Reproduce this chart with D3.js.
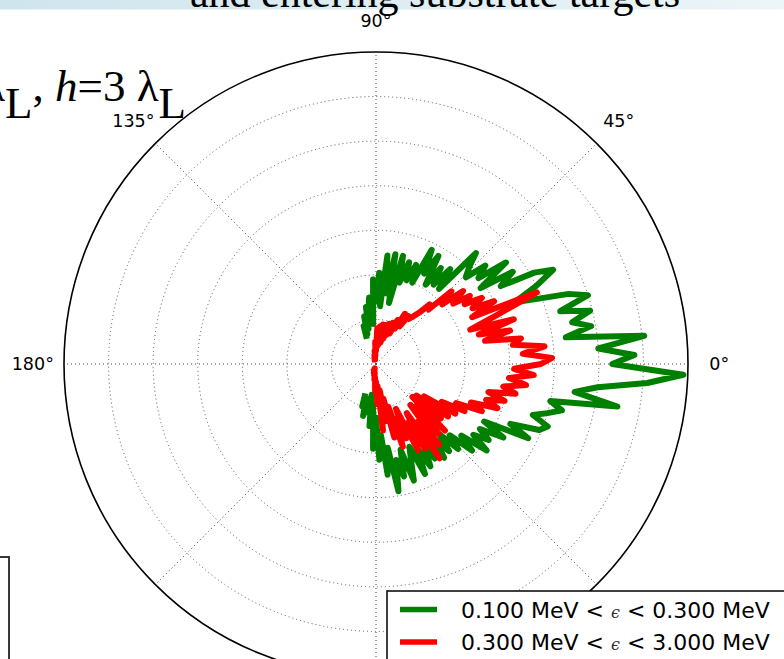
<!DOCTYPE html>
<html>
<head>
<meta charset="utf-8">
<script src="https://cdn.jsdelivr.net/npm/d3@7"></script>
<style>
  html, body { margin: 0; padding: 0; background: #ffffff; }
  svg { display: block; }
</style>
</head>
<body>
<svg id="chart" width="784" height="659"></svg>
<script>
// Emission angle samples (degrees, 0 = laser axis, counter-clockwise positive)
const thetaDeg = d3.range(-110, 112, 2);

// Angular distribution, 0.100 MeV < eps < 0.300 MeV
const lowEnergy = [
  0.7, 1.0, 0.8, 1.2, 0.9, 1.1, 0.7, 1.4, 0.9, 1.9,
  1.2, 2.15, 1.6, 2.5, 1.9, 2.9, 2.2, 2.6, 2.0, 2.75,
  2.3, 2.0, 2.7, 2.1, 2.6, 2.2, 2.5, 2.05, 2.6, 2.2,
  2.55, 2.1, 2.65, 2.3, 2.9, 2.5, 3.15, 2.7, 3.05, 2.75,
  3.3, 2.75, 3.8, 3.3, 3.95, 4.1, 3.7, 4.0, 4.3, 4.0,
  5.5, 4.5, 5.0, 6.1, 6.9, 5.3, 5.8, 5.0, 6.05, 4.3,
  4.9, 4.5, 4.95, 4.3, 5.0, 4.6, 3.9, 3.4, 4.0, 4.5,
  4.1, 3.3, 3.7, 2.9, 3.7, 3.0, 3.3, 2.8, 3.0, 3.35,
  2.2, 2.7, 2.2, 2.6, 2.1, 2.8, 2.3, 2.85, 2.0, 2.4,
  2.0, 2.4, 1.9, 2.5, 1.4, 2.5, 1.6, 2.45, 1.3, 2.05,
  1.4, 1.9, 0.9, 1.5, 1.2, 1.3, 0.8, 1.1, 0.7, 0.9, 0.6
];

// Angular distribution, 0.300 MeV < eps < 3.000 MeV
const highEnergy = [
  0.1, 0.15, 0.1, 0.2, 0.15, 0.25, 0.2, 0.35, 0.3, 0.6,
  0.4, 0.9, 0.5, 1.5, 0.6, 1.3, 0.8, 1.7, 1.0, 1.95,
  1.3, 1.8, 1.1, 2.15, 1.5, 2.2, 1.3, 2.55, 1.6, 2.3,
  1.2, 2.1, 1.3, 2.15, 1.1, 1.9, 1.15, 2.0, 1.3, 2.1,
  1.7, 2.25, 2.0, 2.6, 2.3, 2.9, 2.6, 3.0, 2.6, 3.2,
  2.9, 3.4, 3.0, 3.55, 3.1, 3.7, 3.95, 3.3, 3.8, 3.1,
  3.3, 2.5, 3.1, 2.4, 3.25, 2.25, 2.9, 3.95, 2.4, 3.0,
  2.5, 2.8, 2.4, 2.6, 2.2, 2.55, 2.0, 2.35, 1.7, 1.8,
  1.5, 1.35, 1.25, 1.3, 1.0, 1.3, 0.9, 1.1, 0.75, 1.0,
  0.7, 0.95, 0.6, 0.9, 0.5, 0.9, 0.45, 0.85, 0.4, 0.8,
  0.3, 0.5, 0.2, 0.3, 0.15, 0.2, 0.1, 0.15, 0.1, 0.1, 0.05
];

const angleTicks = [0, 45, 90, 135, 180, 225, 270, 315];
const ringTicks = [1, 2, 3, 4, 5, 6, 7];
const rMax = 7;

const seriesNames = ["0.100 MeV < ", "0.300 MeV < "];
const seriesUpper = [" < 0.300 MeV", " < 3.000 MeV"];
const seriesColors = ["#008000", "#ff0000"];

const W = 784, H = 659;
const cx = 376, cy = 364, R = 312;

const svg = d3.select("#chart");

// Slide header band
const defs = svg.append("defs");
const grad = defs.append("linearGradient").attr("id", "band")
  .attr("x1", "0%").attr("x2", "100%").attr("y1", "0%").attr("y2", "0%");
grad.append("stop").attr("offset", "0%").attr("stop-color", "#cfe5ee");
grad.append("stop").attr("offset", "100%").attr("stop-color", "#ecf5f8");
svg.append("rect").attr("x", 0).attr("y", 0).attr("width", W).attr("height", 9.5)
  .attr("fill", "url(#band)");
svg.append("text")
  .attr("x", 435).attr("y", 7)
  .attr("text-anchor", "middle")
  .attr("font-family", "'Liberation Serif', 'Times New Roman', serif")
  .attr("font-size", 42)
  .attr("fill", "#000")
  .text("and entering substrate targets");

// Polar axes
const r = d3.scaleLinear().domain([0, rMax]).range([0, R]);
const g = svg.append("g").attr("transform", `translate(${cx},${cy})`);

g.selectAll("circle.ring")
  .data(ringTicks.filter(t => t < rMax))
  .join("circle")
  .attr("class", "ring")
  .attr("r", d => r(d))
  .attr("fill", "none")
  .attr("stroke", "#555")
  .attr("stroke-width", 1)
  .attr("stroke-dasharray", "1,3");

g.selectAll("line.spoke")
  .data(angleTicks)
  .join("line")
  .attr("class", "spoke")
  .attr("x1", 0).attr("y1", 0)
  .attr("x2", d => r(rMax) * Math.cos(d * Math.PI / 180))
  .attr("y2", d => -r(rMax) * Math.sin(d * Math.PI / 180))
  .attr("stroke", "#444")
  .attr("stroke-width", 1)
  .attr("stroke-dasharray", "1,3");

// Distribution curves
const radial = d3.lineRadial()
  .angle(d => (90 - d[0]) * Math.PI / 180)
  .radius(d => r(d[1]))
  .curve(d3.curveLinear);

[lowEnergy, highEnergy].forEach((vals, i) => {
  g.append("path")
    .datum(thetaDeg.map((t, k) => [t, vals[k]]))
    .attr("d", radial)
    .attr("fill", "none")
    .attr("stroke", seriesColors[i])
    .attr("stroke-width", 6)
    .attr("stroke-linejoin", "round")
    .attr("stroke-linecap", "butt");
});

g.append("circle")
  .attr("r", r(rMax))
  .attr("fill", "none")
  .attr("stroke", "#000")
  .attr("stroke-width", 1.6);

// Angle labels (those in the lower right fall under the legend / below the frame)
const labelRadius = r(rMax) * 1.1;
g.selectAll("text.angle")
  .data(angleTicks.filter(d => -labelRadius * Math.sin(d * Math.PI / 180) < 230))
  .join("text")
  .attr("class", "angle")
  .attr("x", d => labelRadius * Math.cos(d * Math.PI / 180))
  .attr("y", d => -labelRadius * Math.sin(d * Math.PI / 180))
  .attr("text-anchor", "middle")
  .attr("dominant-baseline", "central")
  .attr("font-family", "'DejaVu Sans', sans-serif")
  .attr("font-size", 17.5)
  .attr("fill", "#000")
  .text(d => d + "\u00b0");

// Slide annotation
const ann = svg.append("text")
  .attr("x", 186).attr("y", 101)
  .attr("text-anchor", "end")
  .attr("font-family", "'Liberation Serif', 'Times New Roman', serif")
  .attr("font-size", 45)
  .attr("fill", "#000");
ann.append("tspan").text("\u03bb");
ann.append("tspan").attr("dy", 17).text("L");
ann.append("tspan").attr("dy", -17).text(", ");
ann.append("tspan").attr("font-style", "italic").text("h");
ann.append("tspan").text("=3 \u03bb");
ann.append("tspan").attr("dy", 17).text("L");

// Neighbouring slide box at the left edge
svg.append("rect")
  .attr("x", -20).attr("y", 557).attr("width", 29).attr("height", 140)
  .attr("fill", "none").attr("stroke", "#222").attr("stroke-width", 1.8);

// Legend
const lg = svg.append("g");
lg.append("rect")
  .attr("x", 387).attr("y", 591).attr("width", 430).attr("height", 120)
  .attr("fill", "#fff").attr("stroke", "#000").attr("stroke-width", 1.5);
seriesNames.forEach((name, i) => {
  const y = 609.5 + i * 32.5;
  lg.append("line")
    .attr("x1", 400).attr("x2", 437).attr("y1", y).attr("y2", y)
    .attr("stroke", seriesColors[i]).attr("stroke-width", 5.5);
  const t = lg.append("text")
    .attr("x", 461).attr("y", y + 8)
    .attr("font-family", "'DejaVu Sans', sans-serif")
    .attr("font-size", 22)
    .attr("fill", "#000");
  t.append("tspan").text(name);
  t.append("tspan")
    .attr("font-family", "'DejaVu Serif', serif")
    .attr("font-style", "italic")
    .attr("font-size", 16)
    .attr("fill", "#333")
    .text("\u03f5");
  t.append("tspan").text(seriesUpper[i]);
});
</script>
</body>
</html>
